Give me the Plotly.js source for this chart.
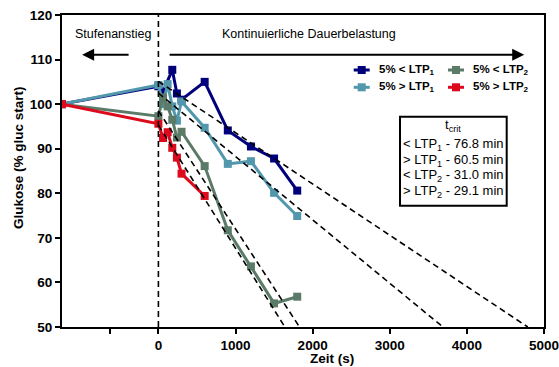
<!DOCTYPE html>
<html>
<head>
<meta charset="utf-8">
<script src="https://cdn.plot.ly/plotly-3.0.1.min.js"></script>
<style>html,body{margin:0;padding:0;background:#fff;}#chart{width:559px;height:367px;}</style>
</head>
<body>
<div id="chart"></div>
<script>
// ---- data (time in s, glucose in % of start) ----
const tNavy  = [-1250, 0, 60, 180, 240, 300, 600, 900, 1200, 1500, 1800];
const gNavy  = [100, 104, 102.8, 107.7, 102.4, 101, 105, 94.1, 90.5, 87.8, 80.6];
const tLight = [-1250, 0, 60, 120, 180, 240, 300, 600, 900, 1200, 1500, 1800];
const gLight = [100, 104.3, 100, 104.5, 99.5, 96.3, 100.6, 94.7, 86.6, 87.2, 80.1, 74.9];
const tGreen = [-1250, 0, 60, 120, 180, 240, 300, 600, 900, 1200, 1500, 1800];
const gGreen = [100, 97.3, 101.5, 99.5, 96.5, 92.5, 93.8, 86.1, 71.7, 63.6, 55.3, 56.8];
const tRed   = [-1250, 0, 60, 120, 180, 240, 300, 600];
const gRed   = [100, 95.6, 92.4, 93.7, 90.2, 88, 84.4, 79.4];

// regression (trend) lines
const trendNavyT  = [0, 4790];  const trendNavyG  = [105.1, 50];
const trendLightT = [0, 3690];  const trendLightG = [102.5, 50];
const trendGreenT = [0, 1830];  const trendGreenG = [98.5, 50];
const trendRedT   = [0, 1640];  const trendRedG   = [95.3, 50];

const seriesNames = ['5% &lt; LTP<sub>1</sub>', '5% &gt; LTP<sub>1</sub>', '5% &lt; LTP<sub>2</sub>', '5% &gt; LTP<sub>2</sub>'];
const tcritLabels = ['&lt; LTP<sub>1</sub> - 76.8 min', '&gt; LTP<sub>1</sub> - 60.5 min', '&lt; LTP<sub>2</sub> - 31.0 min', '&gt; LTP<sub>2</sub> - 29.1 min'];
const xTickVals = [-625, 0, 1000, 2000, 3000, 4000, 5000];
const xTickText = ['', '0', '1000', '2000', '3000', '4000', '5000'];

const cNavy = '#00007c', cLight = '#5297ab', cGreen = '#5b7b68', cRed = '#dc0a1c';
const FONT = 'Liberation Sans, Arial, sans-serif';

// ---- layout helpers (pixel -> paper) ----
const L = 62, R = 544, T = 15, B = 327;
const PX = p => (p - L) / (R - L);
const PY = p => (B - p) / (B - T);

function series(t, g, c) {
  return {x: t, y: g, type: 'scatter', mode: 'lines+markers',
    line: {color: c, width: 3}, marker: {symbol: 'square', size: 8, color: c},
    showlegend: false, hoverinfo: 'skip'};
}
function trend(t, g) {
  return {x: t, y: g, type: 'scatter', mode: 'lines',
    line: {color: '#000', width: 1.6, dash: '6px,4px'}, showlegend: false, hoverinfo: 'skip'};
}

const data = [
  series(tNavy, gNavy, cNavy),
  series(tLight, gLight, cLight),
  series(tGreen, gGreen, cGreen),
  series(tRed, gRed, cRed),
  trend(trendNavyT, trendNavyG),
  trend(trendLightT, trendLightG),
  trend(trendGreenT, trendGreenG),
  trend(trendRedT, trendRedG)
];

const shapes = [
  {type: 'line', xref: 'x', yref: 'y', x0: 0, x1: 0, y0: 50, y1: 120,
   line: {color: '#000', width: 1.6, dash: '6px,4px'}},
  {type: 'rect', xref: 'paper', yref: 'paper', x0: PX(400), x1: PX(506.7), y0: PY(205.7), y1: PY(116.7),
   line: {color: '#000', width: 2}, fillcolor: 'rgba(0,0,0,0)'}
];
const legendPos = [[361.7, 70, cNavy], [361.7, 87.3, cLight], [456, 70, cGreen], [456, 87.3, cRed]];
const annotations = [];
legendPos.forEach((p, i) => {
  shapes.push({type: 'line', xref: 'paper', yref: 'paper', x0: PX(p[0] - 8), x1: PX(p[0] + 8), y0: PY(p[1]), y1: PY(p[1]),
    line: {color: p[2], width: 3}});
  shapes.push({type: 'rect', xref: 'paper', yref: 'paper', x0: PX(p[0] - 4), x1: PX(p[0] + 4), y0: PY(p[1] + 4), y1: PY(p[1] - 4),
    line: {color: p[2], width: 0}, fillcolor: p[2]});
  annotations.push({xref: 'paper', yref: 'paper', x: PX(p[0] + 15), y: PY(p[1]), xanchor: 'left', yanchor: 'middle',
    text: seriesNames[i], showarrow: false, font: {family: FONT, size: 11.5, weight: 700, color: '#000'}});
});

annotations.push({xref: 'paper', yref: 'paper', x: PX(453.3), y: PY(126), xanchor: 'center', yanchor: 'middle',
  text: 't<sub>crit</sub>', showarrow: false, font: {family: FONT, size: 13, color: '#000'}});
[144.3, 160, 175.7, 191.7].forEach((py, i) => {
  annotations.push({xref: 'paper', yref: 'paper', x: PX(453.3), y: PY(py), xanchor: 'center', yanchor: 'middle',
    text: tcritLabels[i], showarrow: false, font: {family: FONT, size: 13, color: '#000'}});
});

// phase labels and arrows
annotations.push({xref: 'paper', yref: 'paper', x: PX(113), y: PY(34), xanchor: 'center', yanchor: 'middle',
  text: 'Stufenanstieg', showarrow: false, font: {family: FONT, size: 12.5, color: '#000'}});
annotations.push({xref: 'paper', yref: 'paper', x: PX(308.5), y: PY(34), xanchor: 'center', yanchor: 'middle',
  text: 'Kontinuierliche Dauerbelastung', showarrow: false, font: {family: FONT, size: 12.5, color: '#000'}});
annotations.push({xref: 'x', yref: 'y', axref: 'x', ayref: 'y', x: -989, y: 111.1, ax: -367, ay: 111.1,
  text: '', showarrow: true, arrowhead: 2, arrowsize: 1.2, arrowwidth: 2, arrowcolor: '#000'});
annotations.push({xref: 'x', yref: 'y', axref: 'x', ayref: 'y', x: 4743, y: 111.1, ax: 126, ay: 111.1,
  text: '', showarrow: true, arrowhead: 2, arrowsize: 1.2, arrowwidth: 2, arrowcolor: '#000'});

// axis titles
annotations.push({xref: 'paper', yref: 'paper', x: PX(332), y: PY(358), xanchor: 'center', yanchor: 'middle',
  text: 'Zeit (s)', showarrow: false, font: {family: FONT, size: 13.5, weight: 700, color: '#000'}});
annotations.push({xref: 'paper', yref: 'paper', x: PX(18), y: PY(158), xanchor: 'center', yanchor: 'middle',
  text: 'Glukose (% gluc start)', textangle: -90, showarrow: false, font: {family: FONT, size: 13.5, weight: 700, color: '#000'}});

const axisCommon = {showline: true, linewidth: 2, linecolor: '#000', mirror: true, ticks: 'outside',
  ticklen: 5, tickwidth: 2, tickcolor: '#000', showgrid: false, zeroline: false,
  tickfont: {family: FONT, size: 13.5, weight: 700, color: '#000'}};

const layout = {
  width: 559, height: 367,
  margin: {l: L, r: 559 - R, t: T, b: 367 - B},
  paper_bgcolor: '#fff', plot_bgcolor: '#fff',
  showlegend: false,
  xaxis: Object.assign({}, axisCommon, {range: [-1250, 5000], tickmode: 'array', tickvals: xTickVals, ticktext: xTickText,
    ticklabeloverflow: 'allow'}),
  yaxis: Object.assign({}, axisCommon, {range: [50, 120], dtick: 10, tick0: 50}),
  shapes: shapes,
  annotations: annotations
};

Plotly.newPlot('chart', data, layout, {staticPlot: true, displayModeBar: false});
</script>
</body>
</html>
